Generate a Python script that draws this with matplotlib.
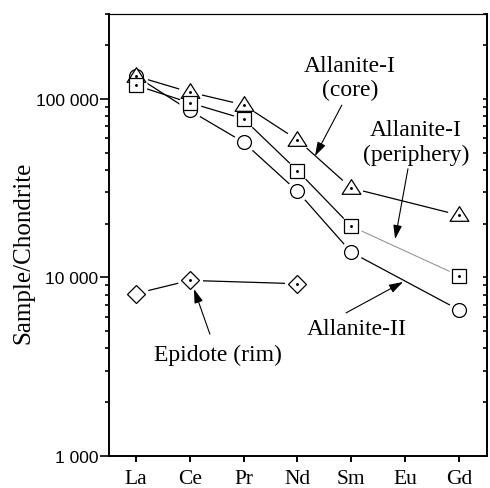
import matplotlib
matplotlib.use("Agg")
import numpy as np
import matplotlib.pyplot as plt
from matplotlib.path import Path
from matplotlib.ticker import LogLocator, FuncFormatter, NullFormatter

ELEMENTS = ["La", "Ce", "Pr", "Nd", "Sm", "Eu", "Gd"]

# chondrite-normalised REE values, None = not measured
ALN_I_CORE = [134000, 109000, 92500, 58900, 31600, None, 22300]
ALN_I_PERIPHERY = [119000, 95000, 77200, 39600, 19300, None, 10200]
ALN_II = [134000, 86000, 57100, 30300, 13800, None, 6560]
EPIDOTE_RIM = [8100, 9600, None, 9200, None, None, None]

SERIF = "Liberation Serif"
SANS = "Liberation Sans"

# wide, flat triangle like the original
TRI = Path([(-1, -0.62), (1, -0.62), (0, 0.94), (-1, -0.62)],
           [Path.MOVETO, Path.LINETO, Path.LINETO, Path.CLOSEPOLY])


def valid(series):
    x = [i for i, v in enumerate(series) if v is not None]
    y = [v for v in series if v is not None]
    return np.array(x), np.array(y, dtype=float)


fig = plt.figure(figsize=(4.9, 4.89), dpi=100)
ax = fig.add_axes([0.2224, 0.0661, 0.7714, 0.9039])

line_kw = dict(color="black", lw=0.9, zorder=1)

cx, cy = valid(ALN_I_CORE)
px, py = valid(ALN_I_PERIPHERY)
ix, iy = valid(ALN_II)
ex, ey = valid(EPIDOTE_RIM)

# connecting lines
ax.plot(cx, cy, **line_kw)
ax.plot(px[:-1], py[:-1], **line_kw)
ax.plot(px[-2:], py[-2:], color="#8a8a8a", lw=0.7, zorder=1)
ax.plot(ix, iy, **line_kw)
ax.plot(ex, ey, **line_kw)

# white halos so lines stop short of the symbols
for x, y, s in [(cx, cy, 17), (px, py, 16), (ix, iy, 16), (ex, ey, 18)]:
    ax.plot(x, y, ls="none", marker="o", ms=s, mfc="white", mec="none", zorder=2)

sym_kw = dict(ls="none", mfc="white", mec="black", mew=0.9)
ax.plot(ix, iy, marker="o", ms=10, zorder=3, **sym_kw)
ax.plot(cx, cy, marker=TRI, ms=13.5, zorder=4, **sym_kw)
ax.plot(px, py, marker="s", ms=9.5, zorder=5, **sym_kw)
ax.plot(ex, ey, marker="D", ms=8.8, zorder=5, **sym_kw)

# little centre dots
for x, y in [(cx, cy), (px, py), (ex[1:], ey[1:])]:
    ax.plot(x, y, ls="none", marker="o", ms=1.1, color="black", zorder=6)

ax.set_yscale("log")
ax.set_ylim(1000, 3.0e5)
ax.set_xlim(-0.5, 6.52)
ax.set_xticks(range(len(ELEMENTS)))
ax.set_xticklabels(ELEMENTS, fontfamily=SERIF, fontsize=15.5)
ax.yaxis.set_major_locator(LogLocator(base=10))
ax.yaxis.set_minor_locator(LogLocator(base=10, subs=np.arange(2, 10)))
ax.yaxis.set_major_formatter(FuncFormatter(lambda v, p: f"{int(round(v)):,}".replace(",", " ")))
ax.yaxis.set_minor_formatter(NullFormatter())
for lab in ax.get_yticklabels():
    lab.set_fontfamily(SANS)

ax.tick_params(axis="y", which="major", direction="out", length=6.5, width=1.2, pad=1, labelsize=12.5)
ax.tick_params(axis="y", which="minor", direction="out", length=3, width=1.2)
ax.tick_params(axis="x", direction="out", length=4.5, width=1.4, pad=5)

ax.set_ylabel("Sample/Chondrite", fontfamily=SERIF, fontsize=18)
ax.yaxis.set_label_coords(-0.198, 0.461)

for side in ["left", "bottom"]:
    ax.spines[side].set_linewidth(1.4)
ax.spines["top"].set_linewidth(0.8)
ax.spines["right"].set_linewidth(1.4)

# right axis with inward ticks, no labels
ax2 = ax.twinx()
ax2.set_yscale("log")
ax2.set_ylim(ax.get_ylim())
ax2.yaxis.set_major_locator(LogLocator(base=10))
ax2.yaxis.set_minor_locator(LogLocator(base=10, subs=np.arange(2, 10)))
ax2.tick_params(axis="y", which="both", direction="in", length=3, width=1.2, labelright=False)
ax2.spines["right"].set_linewidth(1.4)
ax2.spines["top"].set_linewidth(0.8)
ax2.spines["left"].set_visible(False)
ax2.spines["bottom"].set_visible(False)

# labels and arrows (axes fraction)
txt_kw = dict(transform=ax.transAxes, fontfamily=SERIF, fontsize=17,
              ha="center", va="center", linespacing=1.2)
ax.text(0.6376, 0.855, "Allanite-I\n(core)", **txt_kw)
ax.text(0.812, 0.71, "Allanite-I\n(periphery)", **txt_kw)
ax.text(0.656, 0.287, "Allanite-II", **txt_kw)
ax.text(0.288, 0.230, "Epidote (rim)", **txt_kw)

arrow_kw = dict(arrowstyle="-|>,head_length=0.7,head_width=0.22", color="black",
                lw=0.8, shrinkA=0, shrinkB=0, mutation_scale=12)
arrows = [
    ((0.616, 0.793), (0.545, 0.678)),
    ((0.791, 0.649), (0.757, 0.490)),
    ((0.627, 0.323), (0.778, 0.393)),
    ((0.267, 0.275), (0.225, 0.377)),
]
for tail, head in arrows:
    ax.annotate("", xy=head, xytext=tail, xycoords="axes fraction",
                textcoords="axes fraction", arrowprops=arrow_kw)

fig.savefig("out.png", dpi=100)
